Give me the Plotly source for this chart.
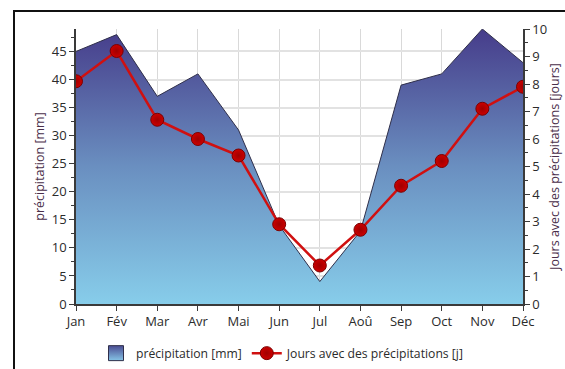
import plotly.graph_objects as go

# Monthly climate values
months = ["Jan", "Fév", "Mar", "Avr", "Mai", "Jun", "Jul", "Aoû", "Sep", "Oct", "Nov", "Déc"]
precip_mm = [45, 48, 37, 41, 31, 14, 4, 13, 39, 41, 49, 43]
rain_days = [8.1, 9.2, 6.7, 6.0, 5.4, 2.9, 1.4, 2.7, 4.3, 5.2, 7.1, 7.9]

FONT = "Open Sans, Noto Sans, sans-serif"
TICK_COLOR = "#2b2b2b"
TITLE_COLOR = "#4a2e4a"
AREA_NAME = "précipitation [mm]"

fig = go.Figure()

# Precipitation area with vertical gradient fill
fig.add_trace(go.Scatter(
    x=months, y=precip_mm,
    name=AREA_NAME,
    legendgroup="precip",
    showlegend=False,
    mode="lines",
    line=dict(color="#2f2f4a", width=1),
    fill="tozeroy",
    fillgradient=dict(
        type="vertical",
        start=0, stop=49,
        colorscale=[[0, "#87cdea"], [0.5, "#6a8fc0"], [1, "#463c8a"]],
    ),
    yaxis="y",
))

# Square gradient swatch for the area's legend entry
fig.add_trace(go.Scatter(
    x=[None], y=[None],
    name=AREA_NAME,
    legendgroup="precip",
    mode="markers",
    marker=dict(symbol="square", size=15, color="#4a4c92",
                gradient=dict(type="vertical", color="#86c4e6"),
                line=dict(color="#2f2f4a", width=1)),
    yaxis="y",
))

fig.add_trace(go.Scatter(
    x=months, y=rain_days,
    name="Jours avec des précipitations [j]",
    mode="lines+markers",
    line=dict(color="#d01010", width=2.5),
    marker=dict(size=13, color="#cc0000",
                line=dict(color="#7a0000", width=1),
                gradient=dict(type="radial", color="#a00000")),
    yaxis="y2",
))

axis_common = dict(
    showline=True, linecolor="#3a3a3a", linewidth=1.5,
    ticks="outside", ticklen=5, tickcolor="#3a3a3a",
    tickfont=dict(family=FONT, size=13, color=TICK_COLOR),
    zeroline=False,
    automargin=False,
)

fig.update_layout(
    width=565, height=369,
    margin=dict(l=76, r=42, t=29, b=65),
    paper_bgcolor="white", plot_bgcolor="white",
    font=dict(family=FONT, color=TICK_COLOR),
    xaxis=dict(
        **axis_common,
        type="category",
        range=[0, 11],
        showgrid=True, gridcolor="#d9d9d9", gridwidth=1,
        minor=dict(ticks="outside", ticklen=3, tickcolor="#3a3a3a",
                   dtick=0.5, showgrid=False),
        ticklabelstandoff=0,
    ),
    yaxis=dict(
        **axis_common,
        range=[0, 49],
        tickvals=list(range(0, 50, 5)),
        showgrid=True, gridcolor="#e2e2e2", gridwidth=1.5,
        minor=dict(ticks="outside", ticklen=3, tickcolor="#3a3a3a",
                   tickvals=[i * 2.5 for i in range(0, 20)], showgrid=False),
        ticklabelstandoff=0,
        title=dict(text="précipitation [mm]",
                   font=dict(family=FONT, size=12.5, color=TITLE_COLOR),
                   standoff=4),
    ),
    yaxis2=dict(
        **axis_common,
        overlaying="y", side="right",
        range=[0, 10],
        tickvals=list(range(0, 11)),
        showgrid=False,
        minor=dict(ticks="outside", ticklen=3, tickcolor="#3a3a3a",
                   tickvals=[i * 0.5 for i in range(0, 21)], showgrid=False),
        ticklabelstandoff=0,
        title=dict(text="Jours avec des précipitations [jours]",
                   font=dict(family=FONT, size=12.5, color=TITLE_COLOR),
                   standoff=4),
    ),
    legend=dict(
        orientation="h",
        xref="container", yref="container",
        x=0.5, xanchor="center",
        y=0.043, yanchor="middle",
        font=dict(family=FONT, size=12.2, color=TICK_COLOR),
        itemwidth=30, tracegroupgap=0,
        bgcolor="rgba(0,0,0,0)",
    ),
    shapes=[dict(
        type="rect", xref="paper", yref="paper",
        x0=(14 - 76) / 447, x1=(600 - 76) / 447,
        y0=(304 - 400) / 275, y1=(304 - 11) / 275,
        line=dict(color="#111111", width=2),
        layer="below",
    )],
)

fig.write_html("out.html")
